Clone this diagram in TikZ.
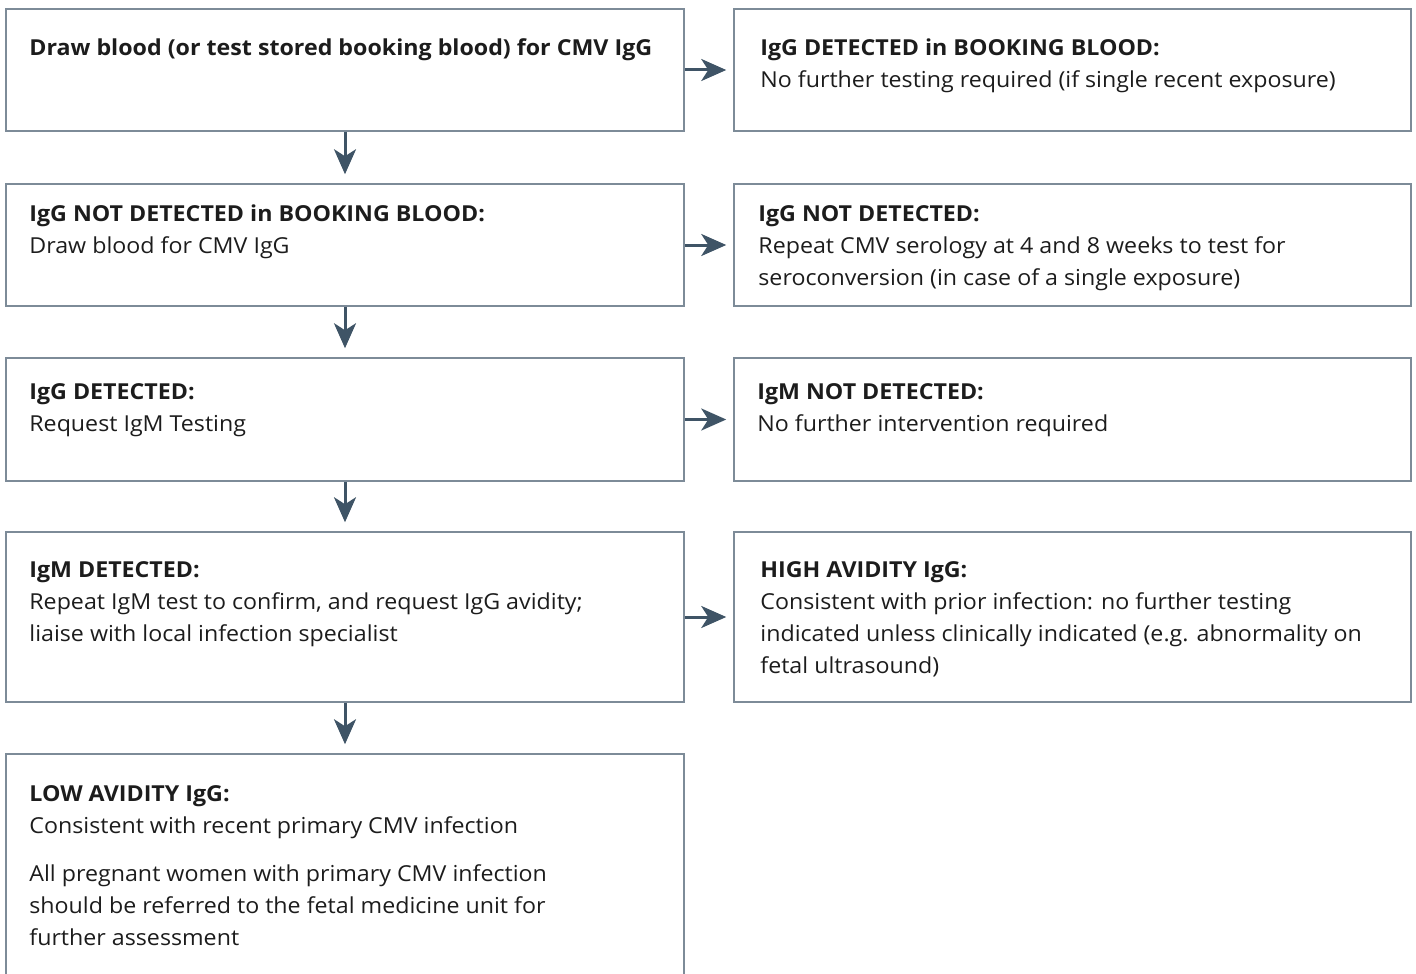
\documentclass[tikz,border=0pt]{standalone}
\usepackage{fontspec}
\setmainfont{Open Sans}[FakeStretch=1.055]
\usepackage{xcolor}
\definecolor{boxcolor}{HTML}{7d8b98}
\definecolor{arrowcolor}{HTML}{3f5466}
\definecolor{textcolor}{HTML}{1c1c1c}
\usetikzlibrary{math,fit,arrows.meta}
\newcommand{\rows}[1]{\begin{tabular}[t]{@{}l@{}}#1\end{tabular}}

\begin{document}
\begin{tikzpicture}[x=0.5pt,y=-0.5pt,
    box/.style={draw=boxcolor,line width=0.75pt,inner sep=0pt},
    txt/.style={anchor=base west,inner sep=0pt,text=textcolor,
        font=\fontsize{11pt}{16pt}\selectfont},
    flow/.style={-{Stealth[length=12.5pt,width=11pt,inset=3.5pt]},
        arrowcolor,line width=1.5pt}]
    \tikzmath{%
        \lx=6;     % left column
        \rx=734;   % right column
        \bw=678;   % box width
    };
    \useasboundingbox (0,0) rectangle (1416,973);

    % left column
    \node [box, fit={(\lx,9) (\lx+\bw,131)}] (draw) {};
    \node [box, fit={(\lx,184) (\lx+\bw,306)}] (nobook) {};
    \node [box, fit={(\lx,358) (\lx+\bw,481)}] (iggdet) {};
    \node [box, fit={(\lx,532) (\lx+\bw,702)}] (igmdet) {};
    \node [box, fit={(\lx,754) (\lx+\bw,1010)}] (lowav) {};

    % right column
    \node [box, fit={(\rx,9) (\rx+\bw-1,131)}] (detbook) {};
    \node [box, fit={(\rx,184) (\rx+\bw-1,306)}] (iggnot) {};
    \node [box, fit={(\rx,358) (\rx+\bw-1,481)}] (igmnot) {};
    \node [box, fit={(\rx,532) (\rx+\bw-1,702)}] (highav) {};

    % texts
    \node [txt] (drawtxt) at (29,56) {\textbf{Draw blood (or test stored booking blood) for CMV IgG}};
    \node [txt] (nobooktxt) at (29,221) {\rows{\textbf{IgG NOT DETECTED in BOOKING BLOOD:}\\
        Draw blood for CMV IgG}};
    \node [txt] (iggdettxt) at (29,399) {\rows{\textbf{IgG DETECTED:}\\
        Request IgM Testing}};
    \node [txt] (igmdettxt) at (29,577) {\rows{\textbf{IgM DETECTED:}\\
        Repeat IgM test to confirm, and request IgG avidity;\\
        liaise with local infection specialist}};
    \node [txt] (lowavtxt) at (29,801) {\rows{\textbf{LOW AVIDITY IgG:}\\
        Consistent with recent primary CMV infection\\[8pt]
        All pregnant women with primary CMV infection\\
        should be referred to the fetal medicine unit for\\
        further assessment}};

    \node [txt] (detbooktxt) at (760,56) {\rows{\textbf{IgG DETECTED in BOOKING BLOOD:}\\
        No further testing required (if single recent exposure)}};
    \node [txt] (iggnottxt) at (758,221) {\rows{\textbf{IgG NOT DETECTED:}\\
        Repeat CMV serology at 4 and 8 weeks to test for\\
        seroconversion (in case of a single exposure)}};
    \node [txt] (igmnottxt) at (757,399) {\rows{\textbf{IgM NOT DETECTED:}\\
        No further intervention required}};
    \node [txt] (highavtxt) at (760,577) {\rows{\textbf{HIGH AVIDITY IgG:}\\
        Consistent with prior infection: no further testing\\
        indicated unless clinically indicated (e.g. abnormality on\\
        fetal ultrasound)}};

    % arrows down
    \draw [flow, shorten >=4.5pt] (draw.south) -- (nobook.north);
    \draw [flow, shorten >=4.5pt] (nobook.south) -- (iggdet.north);
    \draw [flow, shorten >=4.5pt] (iggdet.south) -- (igmdet.north);
    \draw [flow, shorten >=4.5pt] (igmdet.south) -- (lowav.north);

    % arrows right
    \draw [flow, shorten >=3.5pt] (draw.east) -- (detbook.west);
    \draw [flow, shorten >=3.5pt] (nobook.east) -- (iggnot.west);
    \draw [flow, shorten >=3.5pt] (iggdet.east) -- (igmnot.west);
    \draw [flow, shorten >=3.5pt] (igmdet.east) -- (highav.west);

\end{tikzpicture}
\end{document}
